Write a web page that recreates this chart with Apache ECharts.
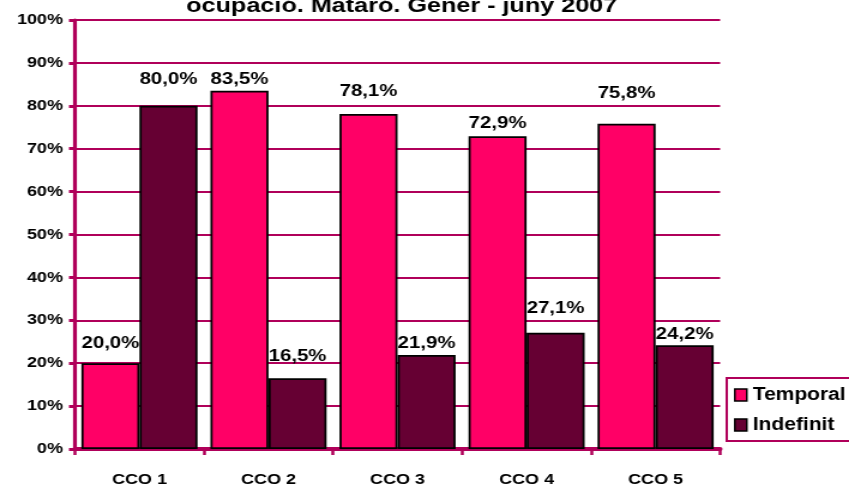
<!DOCTYPE html>
<html>
<head>
<meta charset="utf-8">
<script src="https://cdn.jsdelivr.net/npm/echarts@6/dist/echarts.min.js"></script>
<style>
  html, body { margin: 0; padding: 0; background: #ffffff; overflow: hidden; }
  /* The chart is laid out narrower and widened horizontally, giving the broad lettering of the original sheet */
  #chart { width: 708px; height: 489px; transform: scaleX(1.1992); transform-origin: 0 0; }
</style>
</head>
<body>
<div id="chart"></div>
<script>
// Contract type share by occupation group, Mataró, Jan–Jun 2007
const categories = ['CCO 1', 'CCO 2', 'CCO 3', 'CCO 4', 'CCO 5'];
const temporal = [20.0, 83.5, 78.1, 72.9, 75.8];
const indefinit = [80.0, 16.5, 21.9, 27.1, 24.2];
const seriesNames = ['Temporal', 'Indefinit'];
const titleText = 'ocupació. Mataró. Gener - juny 2007';

// Hand-placed value labels: extra lift above each bar, in pixels
const temporalLabelLift = [11, 3, 14, 4, 22];
const indefinitLabelLift = [18, 13, 3, 16, 2];

const FONT = '"Liberation Sans", Arial, Helvetica, sans-serif';
const AXIS_COLOR = '#B0005A';

const fmt = v => v.toFixed(1).replace('.', ',') + '%';

const baseLabel = {
  show: true,
  position: 'top',
  color: '#000',
  fontFamily: FONT,
  fontWeight: 'bold',
  fontSize: 17,
  formatter: p => fmt(p.value)
};

function barData(values, lifts) {
  return values.map((v, i) => ({ value: v, label: { distance: lifts[i] } }));
}

const chart = echarts.init(document.getElementById('chart'), null, { renderer: 'canvas' });
chart.setOption({
  animation: false,
  backgroundColor: '#ffffff',
  title: {
    text: titleText,
    left: 330,
    textAlign: 'center',
    top: -9,
    textStyle: { fontFamily: FONT, fontWeight: 'bold', fontSize: 21, color: '#000' }
  },
  grid: { left: 62.5, right: 107.5, top: 20, bottom: 40 },
  legend: {
    orient: 'vertical',
    left: 606,
    top: 378,
    data: seriesNames,
    icon: 'rect',
    itemWidth: 10,
    itemHeight: 12,
    itemGap: 12,
    padding: [8, 40, 7, 6],
    borderColor: AXIS_COLOR,
    borderWidth: 2,
    itemStyle: { borderColor: '#000', borderWidth: 1.5 },
    textStyle: { fontFamily: FONT, fontWeight: 'bold', fontSize: 17.5, color: '#000', padding: [0, 0, 0, 0] }
  },
  xAxis: {
    type: 'category',
    data: categories,
    axisLine: { lineStyle: { color: AXIS_COLOR, width: 4 } },
    axisTick: { show: true, length: 6, lineStyle: { color: AXIS_COLOR, width: 2.5 } },
    axisLabel: { color: '#000', fontFamily: FONT, fontWeight: 'bold', fontSize: 15, margin: 23 }
  },
  yAxis: {
    type: 'value',
    min: 0,
    max: 100,
    interval: 10,
    axisLine: { show: true, lineStyle: { color: AXIS_COLOR, width: 3.2 } },
    axisTick: { show: true, length: 5, lineStyle: { color: AXIS_COLOR, width: 3 } },
    splitLine: { lineStyle: { color: AXIS_COLOR, width: 2 } },
    axisLabel: {
      color: '#000', fontFamily: FONT, fontWeight: 'bold', fontSize: 15, margin: 10,
      formatter: v => v + '%'
    }
  },
  series: [
    {
      name: seriesNames[0],
      type: 'bar',
      data: barData(temporal, temporalLabelLift),
      barGap: '0%',
      barCategoryGap: '10%',
      itemStyle: { color: '#FF0066', borderColor: '#000', borderWidth: 1.8 },
      label: baseLabel
    },
    {
      name: seriesNames[1],
      type: 'bar',
      data: barData(indefinit, indefinitLabelLift),
      itemStyle: { color: '#660033', borderColor: '#000', borderWidth: 1.8 },
      label: baseLabel
    }
  ]
});
</script>
</body>
</html>
